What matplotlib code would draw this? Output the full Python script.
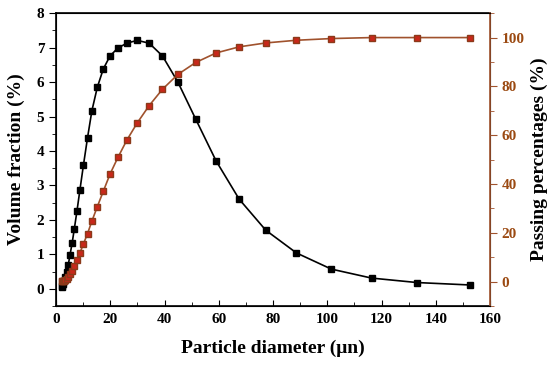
import matplotlib.pyplot as plt

# particle size bins (um)
diam = [2.0, 2.3, 2.6, 3.0, 3.4, 3.9, 4.5, 5.1, 5.9, 6.7, 7.7, 8.8, 10.1, 11.6,
        13.2, 15.2, 17.4, 19.9, 22.8, 26.1, 29.9, 34.3, 39.2, 44.9, 51.5, 59.0,
        67.5, 77.3, 88.6, 101.5, 116.3, 133.1, 152.5]

# volume fraction (%)
vol = [0.05, 0.08, 0.14, 0.22, 0.35, 0.50, 0.70, 0.97, 1.32, 1.73, 2.26, 2.88,
       3.60, 4.39, 5.17, 5.85, 6.38, 6.76, 6.99, 7.13, 7.21, 7.13, 6.76, 6.00,
       4.92, 3.71, 2.60, 1.70, 1.04, 0.57, 0.31, 0.18, 0.11]

# passing percentages (%)
passing = [0.05, 0.1, 0.2, 0.4, 0.7, 1.2, 2.0, 3.0, 4.5, 6.4, 8.9, 11.8, 15.5,
           19.7, 24.8, 30.7, 37.0, 44.1, 50.9, 58.0, 65.0, 72.1, 78.8, 84.9,
           89.8, 93.7, 96.2, 97.8, 98.9, 99.6, 100.0, 100.0, 100.0]

plt.rcParams['font.family'] = ['Liberation Serif', 'DejaVu Serif']
plt.rcParams['font.weight'] = 'bold'

red = '#A0522D'

fig = plt.figure(figsize=(5.5, 3.66), dpi=100)
ax = fig.add_axes([0.102, 0.164, 0.789, 0.8])
ax2 = ax.twinx()

ax.plot(diam, vol, color='black', lw=1.2, marker='s', ms=5, zorder=3)
ax2.plot(diam, passing, color=red, lw=1.2, marker='s', ms=4.5,
         mfc='#C8281A', mec='#8B3A1A', zorder=3)

ax.set_xlim(0, 160)
ax.set_ylim(-0.5, 8)
ax2.set_ylim(-10, 110)
ax.set_xticks(range(0, 161, 20))
ax.set_xticks(range(10, 160, 20), minor=True)
ax.set_yticks(range(0, 9))
ax.set_yticks([x + 0.5 for x in range(-1, 8)], minor=True)
ax2.set_yticks(range(0, 101, 20))
ax2.set_yticks(range(-10, 111, 20), minor=True)

ax.tick_params(axis='x', which='both', direction='in', labelsize=11, pad=5)
ax.tick_params(axis='x', which='major', length=4)
ax.tick_params(axis='x', which='minor', length=3)
ax.tick_params(axis='y', which='both', direction='out', labelsize=11)
ax.tick_params(axis='y', which='major', length=5)
ax.tick_params(axis='y', which='minor', length=3)
ax2.tick_params(axis='y', which='both', direction='out', labelsize=11,
                colors=red, labelcolor='#9B4A12')
ax2.tick_params(axis='y', which='major', length=5)
ax2.tick_params(axis='y', which='minor', length=3)
ax2.spines['right'].set_color(red)
ax2.spines['right'].set_linewidth(1.2)
for s in ['left', 'bottom', 'top']:
    ax.spines[s].set_linewidth(1.2)

for lab in ax.get_xticklabels() + ax.get_yticklabels() + ax2.get_yticklabels():
    lab.set_fontweight('bold')

ax.set_xlabel('Particle diameter (μn)', fontsize=14, fontweight='bold', labelpad=10)
ax.set_ylabel('Volume fraction (%)', fontsize=14, fontweight='bold', labelpad=8)
ax2.set_ylabel('Passing percentages (%)', fontsize=14, fontweight='bold', labelpad=4)

fig.savefig('out.png', dpi=100)
